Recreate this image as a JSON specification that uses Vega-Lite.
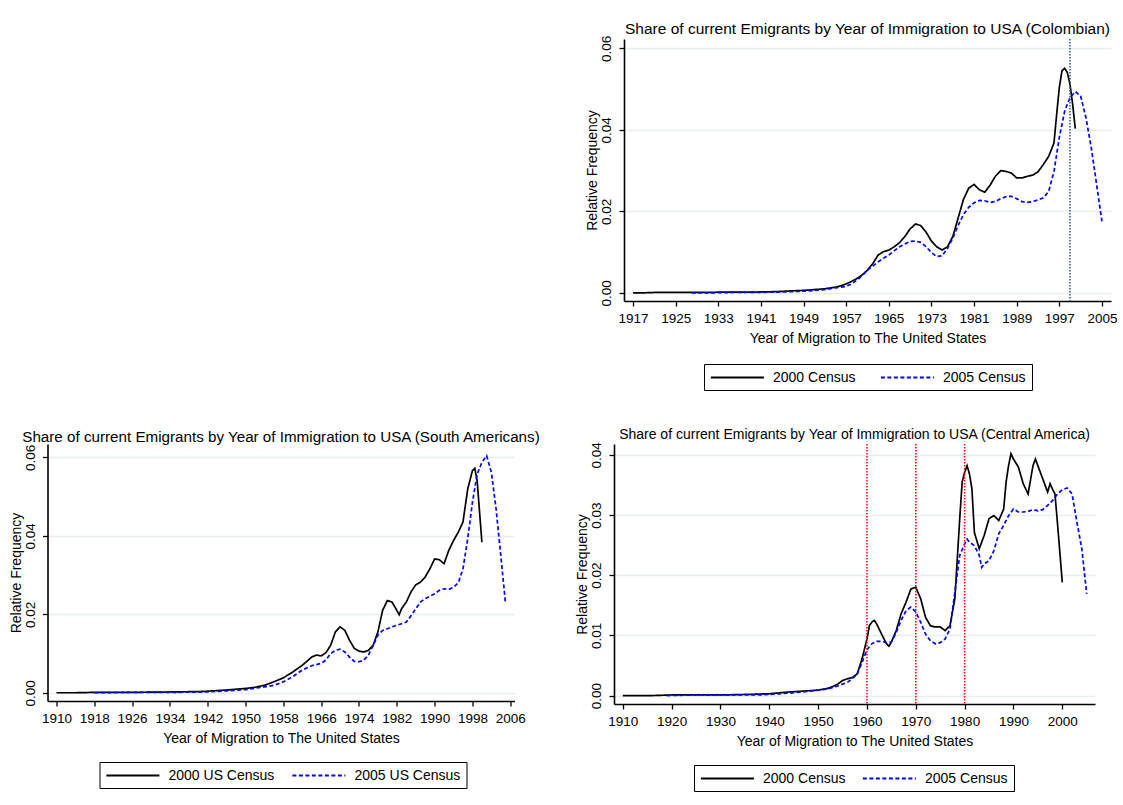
{
  "$schema": "https://vega.github.io/schema/vega-lite/v6.json",
  "background": "white",
  "padding": {"left": 8.5, "top": 22, "right": 0, "bottom": 0},
  "config": {
    "font": "Liberation Sans",
    "view": {"stroke": null},
    "title": {"fontWeight": "normal", "color": "#000000", "fontSize": 15.5, "anchor": "middle", "frame": "group"},
    "axis": {"domainColor": "#000000", "domainWidth": 1.6, "tickColor": "#000000", "tickWidth": 1.3, "tickSize": 5, "labelColor": "#000000", "labelFontSize": 13.5, "titleColor": "#000000", "titleFontSize": 14, "titleFontWeight": "normal", "grid": false},
    "axisX": {"labelFlush": false, "labelOverlap": false, "labelPadding": 5, "titlePadding": 7, "labelAngle": 0},
    "axisY": {"grid": true, "gridColor": "#e7eff0", "gridWidth": 1.5, "labelAngle": -90, "labelPadding": 5.5, "titlePadding": 0, "labelOverlap": false},
    "legend": {"labelFontSize": 14, "labelColor": "#000000", "strokeColor": "#000000", "padding": 5.5, "symbolStrokeWidth": 1.8, "symbolType": "M-1,0H7", "symbolSize": 176, "labelOffset": 47.5, "columnPadding": 20, "orient": "none", "direction": "horizontal", "title": null}
  },
  "datasets": {
    "col": [
      {"year":1917,"v":0,"s":"2000 Census"},{"year":1919,"v":0,"s":"2000 Census"},{"year":1921,"v":0.0001,"s":"2000 Census"},{"year":1925,"v":0.0001,"s":"2000 Census"},{"year":1930,"v":0.0001,"s":"2000 Census"},{"year":1935,"v":0.0002,"s":"2000 Census"},{"year":1940,"v":0.0002,"s":"2000 Census"},{"year":1944,"v":0.0003,"s":"2000 Census"},{"year":1947,"v":0.0005,"s":"2000 Census"},{"year":1949,"v":0.0006,"s":"2000 Census"},{"year":1951,"v":0.0008,"s":"2000 Census"},{"year":1953,"v":0.001,"s":"2000 Census"},{"year":1955,"v":0.0014,"s":"2000 Census"},{"year":1956,"v":0.0017,"s":"2000 Census"},{"year":1957,"v":0.0022,"s":"2000 Census"},{"year":1958,"v":0.0028,"s":"2000 Census"},{"year":1959,"v":0.0035,"s":"2000 Census"},{"year":1960,"v":0.0044,"s":"2000 Census"},{"year":1961,"v":0.0056,"s":"2000 Census"},{"year":1962,"v":0.0072,"s":"2000 Census"},{"year":1963,"v":0.0093,"s":"2000 Census"},{"year":1964,"v":0.0101,"s":"2000 Census"},{"year":1965,"v":0.0105,"s":"2000 Census"},{"year":1966,"v":0.0113,"s":"2000 Census"},{"year":1967,"v":0.0123,"s":"2000 Census"},{"year":1968,"v":0.0138,"s":"2000 Census"},{"year":1969,"v":0.0157,"s":"2000 Census"},{"year":1970,"v":0.0169,"s":"2000 Census"},{"year":1971,"v":0.0165,"s":"2000 Census"},{"year":1972,"v":0.0149,"s":"2000 Census"},{"year":1973,"v":0.0127,"s":"2000 Census"},{"year":1974,"v":0.0113,"s":"2000 Census"},{"year":1975,"v":0.0105,"s":"2000 Census"},{"year":1976,"v":0.0113,"s":"2000 Census"},{"year":1977,"v":0.0138,"s":"2000 Census"},{"year":1978,"v":0.0183,"s":"2000 Census"},{"year":1979,"v":0.0229,"s":"2000 Census"},{"year":1980,"v":0.0257,"s":"2000 Census"},{"year":1981,"v":0.0266,"s":"2000 Census"},{"year":1982,"v":0.0253,"s":"2000 Census"},{"year":1983,"v":0.0247,"s":"2000 Census"},{"year":1984,"v":0.0264,"s":"2000 Census"},{"year":1985,"v":0.0286,"s":"2000 Census"},{"year":1986,"v":0.030,"s":"2000 Census"},{"year":1987,"v":0.0298,"s":"2000 Census"},{"year":1988,"v":0.0294,"s":"2000 Census"},{"year":1989,"v":0.0282,"s":"2000 Census"},{"year":1990,"v":0.0282,"s":"2000 Census"},{"year":1991,"v":0.0286,"s":"2000 Census"},{"year":1992,"v":0.0289,"s":"2000 Census"},{"year":1993,"v":0.0297,"s":"2000 Census"},{"year":1994,"v":0.0315,"s":"2000 Census"},{"year":1995,"v":0.0335,"s":"2000 Census"},{"year":1996,"v":0.0368,"s":"2000 Census"},{"year":1996.5,"v":0.0438,"s":"2000 Census"},{"year":1997,"v":0.0504,"s":"2000 Census"},{"year":1997.5,"v":0.0545,"s":"2000 Census"},{"year":1998,"v":0.0551,"s":"2000 Census"},{"year":1998.5,"v":0.0541,"s":"2000 Census"},{"year":1999,"v":0.0512,"s":"2000 Census"},{"year":1999.5,"v":0.0463,"s":"2000 Census"},{"year":2000,"v":0.0403,"s":"2000 Census"},
      {"year":1928,"v":0,"s":"2005 Census"},{"year":1932,"v":0,"s":"2005 Census"},{"year":1936,"v":0.0001,"s":"2005 Census"},{"year":1940,"v":0.0001,"s":"2005 Census"},{"year":1945,"v":0.0002,"s":"2005 Census"},{"year":1949,"v":0.0004,"s":"2005 Census"},{"year":1951,"v":0.0006,"s":"2005 Census"},{"year":1953,"v":0.0008,"s":"2005 Census"},{"year":1955,"v":0.0012,"s":"2005 Census"},{"year":1957,"v":0.0016,"s":"2005 Census"},{"year":1958,"v":0.0022,"s":"2005 Census"},{"year":1959,"v":0.0031,"s":"2005 Census"},{"year":1960,"v":0.0042,"s":"2005 Census"},{"year":1961,"v":0.0056,"s":"2005 Census"},{"year":1962,"v":0.0066,"s":"2005 Census"},{"year":1963,"v":0.0076,"s":"2005 Census"},{"year":1964,"v":0.0085,"s":"2005 Census"},{"year":1965,"v":0.0093,"s":"2005 Census"},{"year":1966,"v":0.0103,"s":"2005 Census"},{"year":1967,"v":0.0113,"s":"2005 Census"},{"year":1968,"v":0.012,"s":"2005 Census"},{"year":1969,"v":0.0126,"s":"2005 Census"},{"year":1970,"v":0.0127,"s":"2005 Census"},{"year":1971,"v":0.0124,"s":"2005 Census"},{"year":1972,"v":0.0113,"s":"2005 Census"},{"year":1973,"v":0.0099,"s":"2005 Census"},{"year":1974,"v":0.0089,"s":"2005 Census"},{"year":1975,"v":0.0091,"s":"2005 Census"},{"year":1976,"v":0.0109,"s":"2005 Census"},{"year":1977,"v":0.0134,"s":"2005 Census"},{"year":1978,"v":0.0165,"s":"2005 Census"},{"year":1979,"v":0.0192,"s":"2005 Census"},{"year":1980,"v":0.021,"s":"2005 Census"},{"year":1981,"v":0.0221,"s":"2005 Census"},{"year":1982,"v":0.0227,"s":"2005 Census"},{"year":1983,"v":0.0226,"s":"2005 Census"},{"year":1984,"v":0.0222,"s":"2005 Census"},{"year":1985,"v":0.0224,"s":"2005 Census"},{"year":1986,"v":0.0231,"s":"2005 Census"},{"year":1987,"v":0.0236,"s":"2005 Census"},{"year":1988,"v":0.0237,"s":"2005 Census"},{"year":1989,"v":0.0231,"s":"2005 Census"},{"year":1990,"v":0.0224,"s":"2005 Census"},{"year":1991,"v":0.0222,"s":"2005 Census"},{"year":1992,"v":0.0224,"s":"2005 Census"},{"year":1993,"v":0.0228,"s":"2005 Census"},{"year":1994,"v":0.0233,"s":"2005 Census"},{"year":1995,"v":0.0249,"s":"2005 Census"},{"year":1996,"v":0.0298,"s":"2005 Census"},{"year":1997,"v":0.0381,"s":"2005 Census"},{"year":1998,"v":0.0446,"s":"2005 Census"},{"year":1999,"v":0.0479,"s":"2005 Census"},{"year":2000,"v":0.0494,"s":"2005 Census"},{"year":2001,"v":0.0483,"s":"2005 Census"},{"year":2002,"v":0.043,"s":"2005 Census"},{"year":2003,"v":0.0356,"s":"2005 Census"},{"year":2004,"v":0.0266,"s":"2005 Census"},{"year":2005,"v":0.0175,"s":"2005 Census"}
    ],
    "colref": [{"year": 1999}],
    "sa": [
      {"year":1910,"v":0,"s":"2000 US Census"},{"year":1914,"v":0,"s":"2000 US Census"},{"year":1918,"v":0.0001,"s":"2000 US Census"},{"year":1926,"v":0.0001,"s":"2000 US Census"},{"year":1934,"v":0.0002,"s":"2000 US Census"},{"year":1940,"v":0.0003,"s":"2000 US Census"},{"year":1942,"v":0.0004,"s":"2000 US Census"},{"year":1946,"v":0.0007,"s":"2000 US Census"},{"year":1950,"v":0.0011,"s":"2000 US Census"},{"year":1952,"v":0.0014,"s":"2000 US Census"},{"year":1954,"v":0.0019,"s":"2000 US Census"},{"year":1956,"v":0.0028,"s":"2000 US Census"},{"year":1958,"v":0.0038,"s":"2000 US Census"},{"year":1960,"v":0.0053,"s":"2000 US Census"},{"year":1962,"v":0.007,"s":"2000 US Census"},{"year":1964,"v":0.0091,"s":"2000 US Census"},{"year":1965,"v":0.0096,"s":"2000 US Census"},{"year":1966,"v":0.0094,"s":"2000 US Census"},{"year":1967,"v":0.0102,"s":"2000 US Census"},{"year":1968,"v":0.0121,"s":"2000 US Census"},{"year":1969,"v":0.0155,"s":"2000 US Census"},{"year":1970,"v":0.0168,"s":"2000 US Census"},{"year":1971,"v":0.0159,"s":"2000 US Census"},{"year":1972,"v":0.0134,"s":"2000 US Census"},{"year":1973,"v":0.0113,"s":"2000 US Census"},{"year":1974,"v":0.0106,"s":"2000 US Census"},{"year":1975,"v":0.0104,"s":"2000 US Census"},{"year":1976,"v":0.0108,"s":"2000 US Census"},{"year":1977,"v":0.0121,"s":"2000 US Census"},{"year":1978,"v":0.0155,"s":"2000 US Census"},{"year":1979,"v":0.021,"s":"2000 US Census"},{"year":1980,"v":0.0235,"s":"2000 US Census"},{"year":1981,"v":0.0231,"s":"2000 US Census"},{"year":1982,"v":0.021,"s":"2000 US Census"},{"year":1982.5,"v":0.0199,"s":"2000 US Census"},{"year":1983,"v":0.0214,"s":"2000 US Census"},{"year":1984,"v":0.0231,"s":"2000 US Census"},{"year":1985,"v":0.0257,"s":"2000 US Census"},{"year":1986,"v":0.0275,"s":"2000 US Census"},{"year":1987,"v":0.0282,"s":"2000 US Census"},{"year":1988,"v":0.0295,"s":"2000 US Census"},{"year":1989,"v":0.0316,"s":"2000 US Census"},{"year":1990,"v":0.0341,"s":"2000 US Census"},{"year":1991,"v":0.0339,"s":"2000 US Census"},{"year":1992,"v":0.0329,"s":"2000 US Census"},{"year":1993,"v":0.0363,"s":"2000 US Census"},{"year":1994,"v":0.0388,"s":"2000 US Census"},{"year":1995,"v":0.0409,"s":"2000 US Census"},{"year":1996,"v":0.0435,"s":"2000 US Census"},{"year":1997,"v":0.0519,"s":"2000 US Census"},{"year":1998,"v":0.0566,"s":"2000 US Census"},{"year":1998.5,"v":0.0572,"s":"2000 US Census"},{"year":1999,"v":0.054,"s":"2000 US Census"},{"year":2000,"v":0.0384,"s":"2000 US Census"},
      {"year":1918,"v":0,"s":"2005 US Census"},{"year":1926,"v":0.0001,"s":"2005 US Census"},{"year":1934,"v":0.0001,"s":"2005 US Census"},{"year":1942,"v":0.0002,"s":"2005 US Census"},{"year":1946,"v":0.0005,"s":"2005 US Census"},{"year":1950,"v":0.0008,"s":"2005 US Census"},{"year":1954,"v":0.0015,"s":"2005 US Census"},{"year":1956,"v":0.0019,"s":"2005 US Census"},{"year":1958,"v":0.0028,"s":"2005 US Census"},{"year":1960,"v":0.0041,"s":"2005 US Census"},{"year":1962,"v":0.0058,"s":"2005 US Census"},{"year":1964,"v":0.0069,"s":"2005 US Census"},{"year":1966,"v":0.0075,"s":"2005 US Census"},{"year":1967,"v":0.0083,"s":"2005 US Census"},{"year":1968,"v":0.01,"s":"2005 US Census"},{"year":1969,"v":0.0108,"s":"2005 US Census"},{"year":1970,"v":0.0111,"s":"2005 US Census"},{"year":1971,"v":0.0104,"s":"2005 US Census"},{"year":1972,"v":0.0091,"s":"2005 US Census"},{"year":1973,"v":0.008,"s":"2005 US Census"},{"year":1974,"v":0.0079,"s":"2005 US Census"},{"year":1975,"v":0.0083,"s":"2005 US Census"},{"year":1976,"v":0.0096,"s":"2005 US Census"},{"year":1977,"v":0.0121,"s":"2005 US Census"},{"year":1978,"v":0.0147,"s":"2005 US Census"},{"year":1979,"v":0.0159,"s":"2005 US Census"},{"year":1980,"v":0.0163,"s":"2005 US Census"},{"year":1981,"v":0.0168,"s":"2005 US Census"},{"year":1982,"v":0.0172,"s":"2005 US Census"},{"year":1983,"v":0.0176,"s":"2005 US Census"},{"year":1984,"v":0.018,"s":"2005 US Census"},{"year":1985,"v":0.0196,"s":"2005 US Census"},{"year":1986,"v":0.0214,"s":"2005 US Census"},{"year":1987,"v":0.0231,"s":"2005 US Census"},{"year":1988,"v":0.024,"s":"2005 US Census"},{"year":1989,"v":0.0246,"s":"2005 US Census"},{"year":1990,"v":0.0252,"s":"2005 US Census"},{"year":1991,"v":0.0261,"s":"2005 US Census"},{"year":1992,"v":0.0265,"s":"2005 US Census"},{"year":1993,"v":0.0263,"s":"2005 US Census"},{"year":1994,"v":0.0269,"s":"2005 US Census"},{"year":1995,"v":0.028,"s":"2005 US Census"},{"year":1996,"v":0.0316,"s":"2005 US Census"},{"year":1997,"v":0.0392,"s":"2005 US Census"},{"year":1998,"v":0.0485,"s":"2005 US Census"},{"year":1999,"v":0.0557,"s":"2005 US Census"},{"year":2000,"v":0.0587,"s":"2005 US Census"},{"year":2001,"v":0.0604,"s":"2005 US Census"},{"year":2002,"v":0.0562,"s":"2005 US Census"},{"year":2003,"v":0.0469,"s":"2005 US Census"},{"year":2004,"v":0.035,"s":"2005 US Census"},{"year":2005,"v":0.0227,"s":"2005 US Census"}
    ],
    "ca": [
      {"year":1910,"v":0,"s":"2000 Census"},{"year":1916,"v":0,"s":"2000 Census"},{"year":1920,"v":0.0001,"s":"2000 Census"},{"year":1930,"v":0.0001,"s":"2000 Census"},{"year":1936,"v":0.0002,"s":"2000 Census"},{"year":1940,"v":0.0003,"s":"2000 Census"},{"year":1944,"v":0.0006,"s":"2000 Census"},{"year":1948,"v":0.0008,"s":"2000 Census"},{"year":1950,"v":0.0009,"s":"2000 Census"},{"year":1952,"v":0.0012,"s":"2000 Census"},{"year":1953,"v":0.0015,"s":"2000 Census"},{"year":1954,"v":0.0019,"s":"2000 Census"},{"year":1955,"v":0.0025,"s":"2000 Census"},{"year":1956,"v":0.0028,"s":"2000 Census"},{"year":1957,"v":0.003,"s":"2000 Census"},{"year":1958,"v":0.0036,"s":"2000 Census"},{"year":1959,"v":0.0061,"s":"2000 Census"},{"year":1960,"v":0.0094,"s":"2000 Census"},{"year":1960.5,"v":0.0116,"s":"2000 Census"},{"year":1961,"v":0.0122,"s":"2000 Census"},{"year":1961.5,"v":0.0125,"s":"2000 Census"},{"year":1962,"v":0.0119,"s":"2000 Census"},{"year":1963,"v":0.0102,"s":"2000 Census"},{"year":1964,"v":0.0086,"s":"2000 Census"},{"year":1964.5,"v":0.0082,"s":"2000 Census"},{"year":1965,"v":0.0089,"s":"2000 Census"},{"year":1966,"v":0.0108,"s":"2000 Census"},{"year":1967,"v":0.0136,"s":"2000 Census"},{"year":1968,"v":0.0155,"s":"2000 Census"},{"year":1969,"v":0.0177,"s":"2000 Census"},{"year":1970,"v":0.018,"s":"2000 Census"},{"year":1971,"v":0.0161,"s":"2000 Census"},{"year":1972,"v":0.013,"s":"2000 Census"},{"year":1973,"v":0.0116,"s":"2000 Census"},{"year":1974,"v":0.0114,"s":"2000 Census"},{"year":1975,"v":0.0114,"s":"2000 Census"},{"year":1976,"v":0.0108,"s":"2000 Census"},{"year":1977,"v":0.0116,"s":"2000 Census"},{"year":1978,"v":0.0161,"s":"2000 Census"},{"year":1979,"v":0.0294,"s":"2000 Census"},{"year":1979.5,"v":0.0355,"s":"2000 Census"},{"year":1980,"v":0.0371,"s":"2000 Census"},{"year":1980.5,"v":0.0382,"s":"2000 Census"},{"year":1981,"v":0.0368,"s":"2000 Census"},{"year":1981.5,"v":0.0343,"s":"2000 Census"},{"year":1982,"v":0.0271,"s":"2000 Census"},{"year":1983,"v":0.0244,"s":"2000 Census"},{"year":1984,"v":0.0266,"s":"2000 Census"},{"year":1985,"v":0.0294,"s":"2000 Census"},{"year":1986,"v":0.0299,"s":"2000 Census"},{"year":1987,"v":0.0291,"s":"2000 Census"},{"year":1988,"v":0.031,"s":"2000 Census"},{"year":1988.5,"v":0.0355,"s":"2000 Census"},{"year":1989,"v":0.0382,"s":"2000 Census"},{"year":1989.5,"v":0.0402,"s":"2000 Census"},{"year":1990,"v":0.0393,"s":"2000 Census"},{"year":1991,"v":0.038,"s":"2000 Census"},{"year":1992,"v":0.0352,"s":"2000 Census"},{"year":1993,"v":0.0335,"s":"2000 Census"},{"year":1994,"v":0.0382,"s":"2000 Census"},{"year":1994.5,"v":0.0393,"s":"2000 Census"},{"year":1995,"v":0.0382,"s":"2000 Census"},{"year":1996,"v":0.036,"s":"2000 Census"},{"year":1997,"v":0.0338,"s":"2000 Census"},{"year":1997.5,"v":0.0352,"s":"2000 Census"},{"year":1998,"v":0.0343,"s":"2000 Census"},{"year":1998.5,"v":0.0335,"s":"2000 Census"},{"year":1999,"v":0.0288,"s":"2000 Census"},{"year":1999.5,"v":0.0238,"s":"2000 Census"},{"year":2000,"v":0.0188,"s":"2000 Census"},
      {"year":1919,"v":0,"s":"2005 Census"},{"year":1925,"v":0.0001,"s":"2005 Census"},{"year":1938,"v":0.0001,"s":"2005 Census"},{"year":1940,"v":0.0002,"s":"2005 Census"},{"year":1944,"v":0.0004,"s":"2005 Census"},{"year":1948,"v":0.0007,"s":"2005 Census"},{"year":1950,"v":0.0009,"s":"2005 Census"},{"year":1952,"v":0.0011,"s":"2005 Census"},{"year":1954,"v":0.0016,"s":"2005 Census"},{"year":1956,"v":0.0022,"s":"2005 Census"},{"year":1957,"v":0.0028,"s":"2005 Census"},{"year":1958,"v":0.0036,"s":"2005 Census"},{"year":1959,"v":0.0055,"s":"2005 Census"},{"year":1960,"v":0.0076,"s":"2005 Census"},{"year":1961,"v":0.0086,"s":"2005 Census"},{"year":1962,"v":0.009,"s":"2005 Census"},{"year":1963,"v":0.009,"s":"2005 Census"},{"year":1964,"v":0.0088,"s":"2005 Census"},{"year":1965,"v":0.0089,"s":"2005 Census"},{"year":1966,"v":0.0105,"s":"2005 Census"},{"year":1967,"v":0.0125,"s":"2005 Census"},{"year":1968,"v":0.0141,"s":"2005 Census"},{"year":1969,"v":0.0147,"s":"2005 Census"},{"year":1970,"v":0.0139,"s":"2005 Census"},{"year":1971,"v":0.0122,"s":"2005 Census"},{"year":1972,"v":0.0102,"s":"2005 Census"},{"year":1973,"v":0.0091,"s":"2005 Census"},{"year":1974,"v":0.0086,"s":"2005 Census"},{"year":1975,"v":0.0088,"s":"2005 Census"},{"year":1976,"v":0.0094,"s":"2005 Census"},{"year":1977,"v":0.0111,"s":"2005 Census"},{"year":1978,"v":0.0172,"s":"2005 Census"},{"year":1979,"v":0.0233,"s":"2005 Census"},{"year":1980,"v":0.0252,"s":"2005 Census"},{"year":1980.5,"v":0.026,"s":"2005 Census"},{"year":1981,"v":0.0255,"s":"2005 Census"},{"year":1982,"v":0.0249,"s":"2005 Census"},{"year":1983,"v":0.0233,"s":"2005 Census"},{"year":1983.5,"v":0.0213,"s":"2005 Census"},{"year":1984,"v":0.0219,"s":"2005 Census"},{"year":1985,"v":0.0224,"s":"2005 Census"},{"year":1986,"v":0.0241,"s":"2005 Census"},{"year":1987,"v":0.0269,"s":"2005 Census"},{"year":1988,"v":0.0283,"s":"2005 Census"},{"year":1989,"v":0.0299,"s":"2005 Census"},{"year":1990,"v":0.031,"s":"2005 Census"},{"year":1991,"v":0.0305,"s":"2005 Census"},{"year":1992,"v":0.0305,"s":"2005 Census"},{"year":1993,"v":0.0306,"s":"2005 Census"},{"year":1994,"v":0.0309,"s":"2005 Census"},{"year":1995,"v":0.0307,"s":"2005 Census"},{"year":1996,"v":0.0309,"s":"2005 Census"},{"year":1997,"v":0.0316,"s":"2005 Census"},{"year":1998,"v":0.0324,"s":"2005 Census"},{"year":1999,"v":0.0335,"s":"2005 Census"},{"year":2000,"v":0.0342,"s":"2005 Census"},{"year":2001,"v":0.0345,"s":"2005 Census"},{"year":2002,"v":0.0335,"s":"2005 Census"},{"year":2003,"v":0.0288,"s":"2005 Census"},{"year":2004,"v":0.0244,"s":"2005 Census"},{"year":2005,"v":0.0169,"s":"2005 Census"}
    ],
    "caref": [{"year": 1960}, {"year": 1970}, {"year": 1980}]
  },
  "resolve": {"scale": {"color": "independent", "strokeDash": "independent"}, "legend": {"color": "independent", "strokeDash": "independent"}},
  "spacing": 37,
  "vconcat": [
    {
      "resolve": {"scale": {"color": "independent", "strokeDash": "independent"}, "legend": {"color": "independent", "strokeDash": "independent"}},
      "spacing": 37.5,
      "hconcat": [
        {"width": 500, "height": 100, "data": {"values": []}, "mark": {"type": "point", "opacity": 0}, "encoding": {}},
        {
          "width": 487, "height": 262,
          "title": {"text": "Share of current Emigrants by Year of Immigration to USA (Colombian)", "fontSize": 15.5, "offset": -2.5},
          "layer": [
            {
              "data": {"name": "col"},
              "mark": {"type": "line", "strokeWidth": 1.7},
              "encoding": {
                "x": {"field": "year", "type": "quantitative", "scale": {"domain": [1915.3, 2006.7], "nice": false, "zero": false}, "axis": {"values": [1917,1925,1933,1941,1949,1957,1965,1973,1981,1989,1997,2005], "format": "d", "title": "Year of Migration to The United States"}},
                "y": {"field": "v", "type": "quantitative", "scale": {"domain": [-0.002, 0.0623], "nice": false, "zero": false}, "axis": {"values": [0, 0.02, 0.04, 0.06], "format": ".2f", "title": "Relative Frequency"}},
                "color": {"field": "s", "type": "nominal", "scale": {"domain": ["2000 Census", "2005 Census"], "range": ["#000000", "#0000ff"]}, "legend": {"legendX": 80, "legendY": 325}},
                "strokeDash": {"field": "s", "type": "nominal", "scale": {"domain": ["2000 Census", "2005 Census"], "range": [[1, 0], [4, 2.5]]}, "legend": {"legendX": 80, "legendY": 325}}
              }
            },
            {
              "data": {"name": "colref"},
              "mark": {"type": "rule", "color": "#3a5a8c", "strokeDash": [1.5, 1.5], "strokeWidth": 1.6},
              "encoding": {"x": {"field": "year", "type": "quantitative"}}
            }
          ]
        }
      ]
    },
    {
      "resolve": {"scale": {"color": "independent", "strokeDash": "independent"}, "legend": {"color": "independent", "strokeDash": "independent"}},
      "spacing": 33.5,
      "hconcat": [
        {
          "width": 467, "height": 257,
          "title": {"text": "Share of current Emigrants by Year of Immigration to USA (South Americans)", "fontSize": 15.2, "offset": -1},
          "data": {"name": "sa"},
          "mark": {"type": "line", "strokeWidth": 1.7},
          "encoding": {
            "x": {"field": "year", "type": "quantitative", "scale": {"domain": [1908.1, 2006.9], "nice": false, "zero": false}, "axis": {"values": [1910,1918,1926,1934,1942,1950,1958,1966,1974,1982,1990,1998,2006], "format": "d", "title": "Year of Migration to The United States"}},
            "y": {"field": "v", "type": "quantitative", "scale": {"domain": [-0.0021, 0.0634], "nice": false, "zero": false}, "axis": {"values": [0, 0.02, 0.04, 0.06], "format": ".2f", "title": "Relative Frequency"}},
            "color": {"field": "s", "type": "nominal", "scale": {"domain": ["2000 US Census", "2005 US Census"], "range": ["#000000", "#0000ff"]}, "legend": {"legendX": 52, "legendY": 318, "columnPadding": 13}},
            "strokeDash": {"field": "s", "type": "nominal", "scale": {"domain": ["2000 US Census", "2005 US Census"], "range": [[1, 0], [4, 2.5]]}, "legend": {"legendX": 52, "legendY": 318, "columnPadding": 13}}
          }
        },
        {
          "width": 481, "height": 260,
          "title": {"text": "Share of current Emigrants by Year of Immigration to USA (Central America)", "fontSize": 14, "offset": -0.5},
          "layer": [
            {
              "data": {"name": "ca"},
              "mark": {"type": "line", "strokeWidth": 1.7},
              "encoding": {
                "x": {"field": "year", "type": "quantitative", "scale": {"domain": [1908.2, 2006.7], "nice": false, "zero": false}, "axis": {"values": [1910,1920,1930,1940,1950,1960,1970,1980,1990,2000], "format": "d", "title": "Year of Migration to The United States"}},
                "y": {"field": "v", "type": "quantitative", "scale": {"domain": [-0.0014, 0.0418], "nice": false, "zero": false}, "axis": {"values": [0, 0.01, 0.02, 0.03, 0.04], "format": ".2f", "title": "Relative Frequency"}},
                "color": {"field": "s", "type": "nominal", "scale": {"domain": ["2000 Census", "2005 Census"], "range": ["#000000", "#0000ff"]}, "legend": {"legendX": 80, "legendY": 321, "columnPadding": 12}},
                "strokeDash": {"field": "s", "type": "nominal", "scale": {"domain": ["2000 Census", "2005 Census"], "range": [[1, 0], [4, 2.5]]}, "legend": {"legendX": 80, "legendY": 321, "columnPadding": 12}}
              }
            },
            {
              "data": {"name": "caref"},
              "mark": {"type": "rule", "color": "#ff0000", "strokeDash": [1.5, 1.5], "strokeWidth": 1.5},
              "encoding": {"x": {"field": "year", "type": "quantitative"}}
            }
          ]
        }
      ]
    }
  ]
}
